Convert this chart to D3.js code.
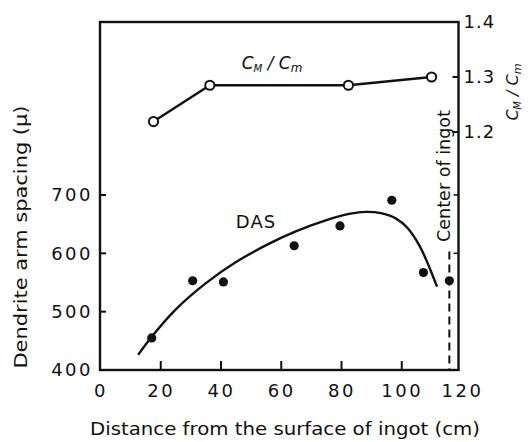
<!DOCTYPE html>
<html><head><meta charset="utf-8">
<script src="https://cdn.jsdelivr.net/npm/d3@7"></script>
<style>
html,body{margin:0;padding:0;background:#fff;}
svg{display:block;}
text{font-family:"DejaVu Sans",sans-serif;fill:#111;}
</style></head>
<body>
<svg id="c" width="528" height="442"></svg>
<script>
// ---- data ----
const xTicks = [0, 20, 40, 60, 80, 100, 120];
const dasTicks = [400, 500, 600, 700];
const ratioTicks = [1.2, 1.3, 1.4];

const dasX = [17, 30.6, 40.8, 64.3, 79.5, 96.7, 107.2, 115.8];
const dasY = [455, 553, 551, 613, 647, 691, 567, 553];

const fitX = [12.5, 17, 25, 35, 45, 55, 65, 75, 83, 88, 93, 98, 102, 106, 109, 111.7];
const fitY = [426, 457, 504, 549, 585, 614, 638, 657, 668, 671, 669, 660, 643, 612, 578, 543];

const ratioX = [17.6, 36.3, 82.3, 109.9];
const ratioY = [1.219, 1.285, 1.285, 1.300];

const centerX = 115.8;

// ---- layout ----
const L = 100, R = 458.5, T = 22, B = 370;
const svg = d3.select("#c");
const x = d3.scaleLinear().domain([0, 120]).range([100.5, 462]);
const yL = d3.scaleLinear().domain([400, 700]).range([370, 195]);
const yR = d3.scaleLinear().domain([1.2, 1.4]).range([132, 22]);

// frame
svg.append("rect").attr("x", L).attr("y", T).attr("width", R - L).attr("height", B - T)
  .attr("fill", "none").attr("stroke", "#111").attr("stroke-width", 2.4);

// bottom axis (inward ticks)
const gx = svg.append("g").attr("transform", `translate(0,${B})`)
  .call(d3.axisBottom(x).tickValues(xTicks).tickSize(0).tickPadding(14).tickFormat(d3.format("d")));
gx.select(".domain").remove();
gx.selectAll("text").attr("font-size", 18).attr("letter-spacing", 2.5).attr("dy", "0.71em").attr("fill", "#111");
svg.append("g").selectAll("line").data(xTicks.filter(d => d > 0 && d < 120)).join("line")
  .attr("x1", d => x(d)).attr("x2", d => x(d)).attr("y1", B).attr("y2", B - 9)
  .attr("stroke", "#111").attr("stroke-width", 2);

// left axis
const gl = svg.append("g").attr("transform", `translate(${L},0)`)
  .call(d3.axisLeft(yL).tickValues(dasTicks).tickSize(0).tickPadding(7).tickFormat(d3.format("d")));
gl.select(".domain").remove();
gl.selectAll("text").attr("font-size", 18).attr("letter-spacing", 2.5).attr("fill", "#111");
svg.append("g").selectAll("line").data(dasTicks.filter(d => d > 400)).join("line")
  .attr("x1", L).attr("x2", L + 6).attr("y1", d => yL(d)).attr("y2", d => yL(d))
  .attr("stroke", "#111").attr("stroke-width", 2);

// right axis
const gr = svg.append("g").attr("transform", `translate(${R},0)`)
  .call(d3.axisRight(yR).tickValues(ratioTicks).tickSize(0).tickPadding(5).tickFormat(d3.format(".1f")));
gr.select(".domain").remove();
gr.selectAll("text").attr("font-size", 18).attr("letter-spacing", 1).attr("fill", "#111");
svg.append("g").selectAll("line").data([1.2, 1.3]).join("line")
  .attr("x1", R - 6).attr("x2", R).attr("y1", d => yR(d)).attr("y2", d => yR(d))
  .attr("stroke", "#111").attr("stroke-width", 2);
svg.append("g").selectAll("line").data([600, 700]).join("line")
  .attr("x1", R - 5).attr("x2", R).attr("y1", d => yL(d)).attr("y2", d => yL(d))
  .attr("stroke", "#111").attr("stroke-width", 1.5);

// center of ingot dashed line
svg.append("line").attr("x1", x(centerX)).attr("x2", x(centerX))
  .attr("y1", yL(603)).attr("y2", B)
  .attr("stroke", "#111").attr("stroke-width", 2).attr("stroke-dasharray", "8,5");

// DAS fitted curve
const fit = fitX.map((v, i) => [v, fitY[i]]);
svg.append("path").datum(fit)
  .attr("d", d3.line().x(d => x(d[0])).y(d => yL(d[1])).curve(d3.curveCatmullRom.alpha(0.5)))
  .attr("fill", "none").attr("stroke", "#111").attr("stroke-width", 2.4);

// DAS points
svg.append("g").selectAll("circle").data(dasX.map((v, i) => [v, dasY[i]])).join("circle")
  .attr("cx", d => x(d[0])).attr("cy", d => yL(d[1])).attr("r", 4.6).attr("fill", "#111");

// ratio line + open circles
const rat = ratioX.map((v, i) => [v, ratioY[i]]);
svg.append("path").datum(rat)
  .attr("d", d3.line().x(d => x(d[0])).y(d => yR(d[1])))
  .attr("fill", "none").attr("stroke", "#111").attr("stroke-width", 2.4);
svg.append("g").selectAll("circle").data(rat).join("circle")
  .attr("cx", d => x(d[0])).attr("cy", d => yR(d[1])).attr("r", 4.6)
  .attr("fill", "#fff").attr("stroke", "#111").attr("stroke-width", 2);

// labels
function cmLabel(sel, size) {
  sel.attr("font-style", "italic").attr("font-size", size);
  sel.append("tspan").text("C");
  sel.append("tspan").text("M").attr("font-size", size * 0.6).attr("dy", 3);
  sel.append("tspan").text(" / C").attr("dy", -3);
  sel.append("tspan").text("m").attr("font-size", size * 0.7).attr("dy", 3);
}
cmLabel(svg.append("text").attr("x", 272).attr("y", 69).attr("text-anchor", "middle"), 17);
cmLabel(svg.append("text").attr("transform", "translate(518,92) rotate(-90)").attr("text-anchor", "middle"), 16);

svg.append("text").attr("x", 256).attr("y", 228).attr("text-anchor", "middle")
  .attr("font-size", 18).attr("letter-spacing", 1).text("DAS");

svg.append("text").attr("transform", `translate(450,176) rotate(-90)`).attr("text-anchor", "middle")
  .attr("font-size", 17).attr("textLength", 132).attr("lengthAdjust", "spacingAndGlyphs").text("Center of ingot");

svg.append("text").attr("transform", "translate(27,237) rotate(-90)").attr("text-anchor", "middle")
  .attr("font-size", 18).attr("textLength", 263).attr("lengthAdjust", "spacingAndGlyphs").text("Dendrite arm spacing (μ)");

svg.append("text").attr("x", 285).attr("y", 435).attr("text-anchor", "middle")
  .attr("font-size", 18).attr("textLength", 390).attr("lengthAdjust", "spacingAndGlyphs")
  .text("Distance from the surface of ingot (cm)");
</script>
</body></html>
